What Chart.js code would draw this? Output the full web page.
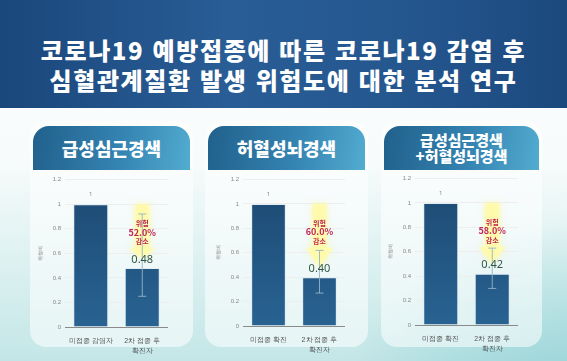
<!DOCTYPE html>
<html lang="ko">
<head>
<meta charset="utf-8">
<script src="https://cdn.jsdelivr.net/npm/chart.js@4"></script>
<style>
  html, body { margin: 0; padding: 0; }
  body {
    width: 567px; height: 361px; position: relative; overflow: hidden;
    font-family: "Noto Sans CJK KR", "Noto Sans", sans-serif;
    background: linear-gradient(180deg, #ffffff 0%, #f7fbfb 45%, #d6eeee 80%, #c4e6e7 100%);
  }
  .glow {
    position: absolute; left: 0; top: 108px; width: 567px; height: 253px;
    background: radial-gradient(ellipse 260px 220px at 590px 330px, rgba(120,200,205,0.75), rgba(160,215,220,0) 100%),
                radial-gradient(ellipse 200px 120px at 0px 360px, rgba(150,210,215,0.5), rgba(150,210,215,0) 100%);
  }
  .banner {
    position: absolute; left: 0; top: 0; width: 567px; height: 108px;
    background: linear-gradient(90deg, #1a477c 0%, #295d95 40%, #25578f 70%, #1b497e 100%);
  }
  .banner div {
    position: absolute; left: 0; width: 567px; text-align: center;
    color: #fff; font-weight: 900; font-size: 24px; letter-spacing: 1.6px;
  }
  .card {
    position: absolute; top: 121px; height: 226px;
    background: rgba(255,255,255,0.55); border-radius: 16px;
  }
  .head {
    position: absolute; top: 126px; height: 44px;
    border-radius: 16px 16px 0 0;
    background: linear-gradient(100deg, #21608c 0%, #3483b1 55%, #52acd0 100%);
    color: #fff; font-weight: 900; text-align: center;
    display: flex; align-items: center; justify-content: center;
    line-height: 16px;
  }
  canvas { position: absolute; }
</style>
</head>
<body>
<div class="glow"></div>
<div class="banner">
  <div style="top:32px">코로나19 예방접종에 따른 코로나19 감염 후</div>
  <div style="top:62px">심혈관계질환 발생 위험도에 대한 분석 연구</div>
</div>

<div class="card" style="left:30px;width:163px"></div>
<div class="card" style="left:205px;width:163px"></div>
<div class="card" style="left:381px;width:161px"></div>

<div class="head" style="left:33px;width:157px;font-size:18px">급성심근경색</div>
<div class="head" style="left:208px;width:157px;font-size:18px">허혈성뇌경색</div>
<div class="head" style="left:384px;width:155px;font-size:15px">급성심근경색<br>+허혈성뇌경색</div>

<canvas id="c1" width="130" height="186" style="left:38px;top:172px"></canvas>
<canvas id="c2" width="129" height="185" style="left:216px;top:172px"></canvas>
<canvas id="c3" width="130" height="185" style="left:388px;top:171px"></canvas>

<script>
// categories per panel
const labels1 = ['미접종 감염자', ['2차 접종 후', '확진자']];
const labels2 = ['미접종 확진', ['2차 접종 후', '확진자']];
const labels3 = ['미접종 확진', ['2차 접종 후', '확진자']];

// hazard ratios (unvaccinated = reference 1)
const ratio1 = [1, 0.48];
const ratio2 = [1, 0.40];
const ratio3 = [1, 0.42];

// confidence interval of the vaccinated bar
const ciLow = [0.25, 0.27, 0.30];
const ciHigh = [0.92, 0.62, 0.63];

// risk reduction text
const reduction = ['52.0%', '60.0%', '58.0%'];

const yTicks = [0, 0.2, 0.4, 0.6, 0.8, 1, 1.2];

// error bar, yellow arrow and labels drawn on the scales
const decor = {
  id: 'decor',
  afterDatasetsDraw(chart, args, opts) {
    const { ctx, scales: { x, y } } = chart;
    const i = opts.idx;
    const vals = chart.data.datasets[0].data;
    const cx = x.getPixelForValue(1);

    // yellow arrow
    const top = y.getPixelForValue(1.0);
    const neck = y.getPixelForValue(0.64);
    const tip = y.getPixelForValue(vals[1] + 0.08);
    ctx.save();
    ctx.shadowColor = 'rgba(255,250,140,0.9)';
    ctx.shadowBlur = 6;
    ctx.fillStyle = 'rgba(255,250,170,0.8)';
    ctx.beginPath();
    ctx.moveTo(cx - 7, top);
    ctx.lineTo(cx + 7, top);
    ctx.lineTo(cx + 7, neck);
    ctx.lineTo(cx + 13, neck);
    ctx.lineTo(cx, tip);
    ctx.lineTo(cx - 13, neck);
    ctx.lineTo(cx - 7, neck);
    ctx.closePath();
    ctx.fill();
    ctx.restore();

    // error bar
    const yl = y.getPixelForValue(ciLow[i]);
    const yh = y.getPixelForValue(ciHigh[i]);
    ctx.save();
    ctx.strokeStyle = 'rgba(150,180,200,0.9)';
    ctx.lineWidth = 1;
    ctx.beginPath();
    ctx.moveTo(cx, yl); ctx.lineTo(cx, yh);
    ctx.moveTo(cx - 4, yl); ctx.lineTo(cx + 4, yl);
    ctx.moveTo(cx - 4, yh); ctx.lineTo(cx + 4, yh);
    ctx.stroke();
    ctx.restore();

    ctx.save();
    ctx.textAlign = 'center';
    ctx.textBaseline = 'middle';
    // reduction text
    ctx.fillStyle = '#c0255a';
    ctx.font = 'bold 7px "Noto Sans CJK KR"';
    ctx.fillText('위험', cx, y.getPixelForValue(0.845));
    ctx.font = 'bold 9px "Noto Sans CJK KR"';
    ctx.fillText(reduction[i], cx, y.getPixelForValue(0.77));
    ctx.font = 'bold 7px "Noto Sans CJK KR"';
    ctx.fillText('감소', cx, y.getPixelForValue(0.695));

    // value labels
    ctx.fillStyle = '#2f5848';
    ctx.font = '11px "Noto Sans", sans-serif';
    ctx.fillText(vals[1].toFixed(2), cx, y.getPixelForValue(vals[1] + 0.07));
    ctx.fillStyle = '#888';
    ctx.font = '6px "Noto Sans", sans-serif';
    ctx.fillText(String(vals[0]), x.getPixelForValue(0), y.getPixelForValue(1.08));
    ctx.restore();
  }
};

function makeChart(id, labels, data, idx) {
  const ctx = document.getElementById(id).getContext('2d');
  const grad = ctx.createLinearGradient(0, 0, 0, 178);
  grad.addColorStop(0, '#1c4770');
  grad.addColorStop(1, '#2a6797');
  return new Chart(ctx, {
    type: 'bar',
    data: {
      labels: labels,
      datasets: [{
        data: data,
        backgroundColor: grad,
        borderColor: 'rgba(220,235,245,0.8)',
        borderWidth: 1,
        barPercentage: 0.68,
        categoryPercentage: 1
      }]
    },
    options: {
      responsive: false,
      animation: false,
      layout: { padding: { top: 6, right: 0, bottom: 0, left: 0 } },
      plugins: { legend: { display: false }, tooltip: { enabled: false }, decor: { idx: idx } },
      scales: {
        x: {
          grid: { display: false },
          border: { color: '#8a8a8a' },
          ticks: { color: '#555', font: { size: 7, lineHeight: 1.3 }, padding: 2, maxRotation: 0 },
          afterFit: s => { s.height = 31; }
        },
        y: {
          min: 0, max: 1.2,
          afterBuildTicks: s => { s.ticks = yTicks.map(v => ({ value: v })); },
          grid: { color: '#eeeeee', drawTicks: false },
          border: { display: false },
          ticks: { color: '#888', font: { size: 6 }, padding: 4, callback: v => String(+v.toFixed(1)) },
          title: { display: true, text: '위험비', color: '#888', font: { size: 5 }, padding: 0 },
          afterFit: s => { s.width = 27; }
        }
      }
    },
    plugins: [decor]
  });
}

makeChart('c1', labels1, ratio1, 0);
makeChart('c2', labels2, ratio2, 1);
makeChart('c3', labels3, ratio3, 2);
</script>
</body>
</html>
